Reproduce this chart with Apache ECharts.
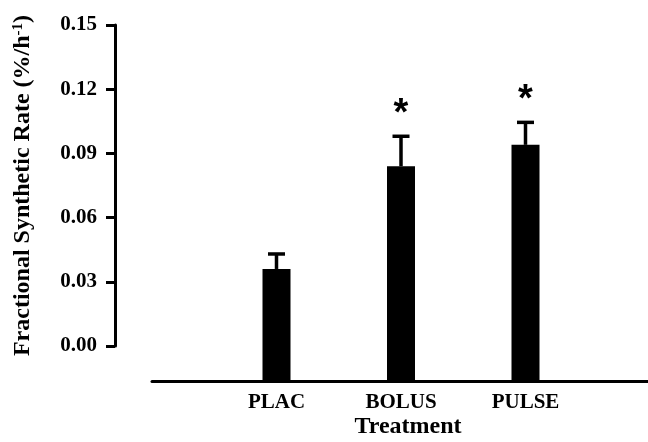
<!DOCTYPE html>
<html>
<head>
<meta charset="utf-8">
<script src="https://cdn.jsdelivr.net/npm/echarts@6/dist/echarts.min.js"></script>
<style>html,body{margin:0;padding:0;background:#fff;}#c{width:648px;height:442px;}</style>
</head>
<body>
<div id="c"></div>
<script>
const categories = ['PLAC', 'BOLUS', 'PULSE'];
const means = [0.036, 0.084, 0.094];
const sem = [0.007, 0.014, 0.0105];
const significance = ['', '*', '*'];
const yTicks = { min: 0, max: 0.15, interval: 0.03 };

const FONT = 'Liberation Serif';
const X_OFFSET = 35.5;   // detached x axis (px below y=0)
const Y_OFFSET = 37;     // detached y axis (px left of plot)

const seriesData = categories.map((c, i) => [i + 1, means[i], sem[i], significance[i]]);

const chart = echarts.init(document.getElementById('c'), null, { renderer: 'canvas' });
chart.setOption({
  animation: false,
  backgroundColor: '#fff',
  grid: { left: 152, right: -2, top: 25, bottom: 96, containLabel: false, outerBoundsMode: 'none' },
  xAxis: {
    type: 'value', min: 0, max: categories.length + 1, interval: 1,
    offset: X_OFFSET,
    axisLine: { show: true, onZero: false, lineStyle: { color: '#000', width: 3 } },
    axisTick: { show: false },
    splitLine: { show: false },
    axisLabel: {
      margin: 11, color: '#000', fontFamily: FONT, fontWeight: 'bold', fontSize: 21,
      formatter: v => categories[v - 1] || ''
    },
    name: 'Treatment', nameLocation: 'middle', nameGap: 33, nameMoveOverlap: false,
    nameTextStyle: { color: '#000', fontFamily: FONT, fontWeight: 'bold', fontSize: 24, padding: [0, 0, 0, 14] }
  },
  yAxis: {
    type: 'value', min: yTicks.min, max: yTicks.max, interval: yTicks.interval,
    offset: Y_OFFSET,
    axisLine: { show: true, onZero: false, lineStyle: { color: '#000', width: 3 } },
    axisTick: { show: true, length: 9, lineStyle: { color: '#000', width: 3 } },
    splitLine: { show: false },
    axisLabel: {
      margin: 18, color: '#000', fontFamily: FONT, fontWeight: 'bold', fontSize: 21,
      formatter: v => v.toFixed(2)
    },
    name: 'Fractional Synthetic Rate (%/h{sup|-1})', nameLocation: 'middle', nameGap: 80, nameRotate: 90,
    nameTextStyle: {
      color: '#000', fontFamily: FONT, fontWeight: 'bold', fontSize: 24,
      rich: { sup: { fontFamily: FONT, fontWeight: 'bold', fontSize: 15, verticalAlign: 'top', color: '#000' } }
    }
  },
  series: [{
    type: 'custom',
    clip: false,
    data: seriesData,
    renderItem: function (params, api) {
      const x = api.value(0), v = api.value(1), e = api.value(2);
      const sig = significance[params.dataIndex];
      const top = api.coord([x, v]);
      const base = api.coord([x, 0]);
      const errTop = api.coord([x, v + e]);
      const bw = 28, cw = 17;
      const children = [
        { type: 'rect', shape: { x: top[0] - bw / 2, y: top[1], width: bw, height: base[1] - top[1] + X_OFFSET }, style: { fill: '#000' } },
        { type: 'line', shape: { x1: top[0], y1: top[1], x2: top[0], y2: errTop[1] }, style: { stroke: '#000', lineWidth: 3.5 } },
        { type: 'line', shape: { x1: top[0] - cw / 2, y1: errTop[1], x2: top[0] + cw / 2, y2: errTop[1] }, style: { stroke: '#000', lineWidth: 3.5 } }
      ];
      if (sig) {
        children.push({ type: 'text', style: { text: sig, x: top[0], y: errTop[1] - 22, align: 'center', verticalAlign: 'middle', fontFamily: 'Liberation Sans', fontWeight: 'bold', fontSize: 38, fill: '#000' } });
      }
      return { type: 'group', children: children };
    }
  }]
});
</script>
</body>
</html>
